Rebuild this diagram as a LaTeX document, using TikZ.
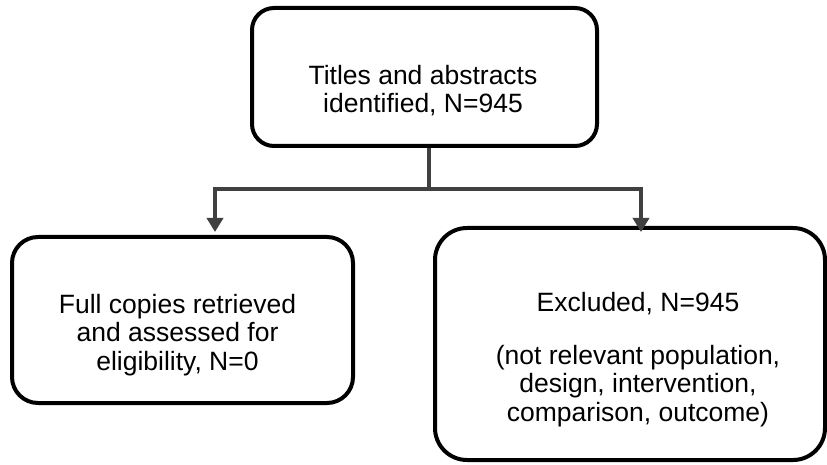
\documentclass[tikz,border=0pt]{standalone}
\usepackage{fontspec}
\setmainfont{Liberation Sans}
\usetikzlibrary{arrows.meta}
\definecolor{conngray}{HTML}{404040}
\tikzset{
  box/.style={draw=black, line width=4pt, fill=white, inner sep=0pt},
  txt/.style={align=center, font=\fontsize{26.5}{28.5}\selectfont, inner sep=0pt, anchor=base},
  conn/.style={draw=conngray, line width=3.5pt},
  arr/.style={conn, -{Triangle[length=14pt,width=16pt]}}
}
\begin{document}
\begin{tikzpicture}[x=1pt,y=1pt]
\useasboundingbox (0,0) rectangle (827,464);
\node[box, rounded corners=22pt, minimum width=345pt, minimum height=138pt] (top) at (424.5,387) {};
\node[box, rounded corners=26pt, minimum width=341pt, minimum height=166pt] (left) at (182.5,144) {};
\node[box, rounded corners=32pt, minimum width=390pt, minimum height=232pt] (right) at (630,120) {};
\node[txt] (ttop) at (423,351) {Titles and abstracts\\identified, N=945};
\node[txt] (tleft) at (177.5,94) {Full copies retrieved\\and assessed for\\eligibility, N=0};
\node[txt] (tright) at (638,43) {Excluded, N=945\\[24.5pt](not relevant population,\\design, intervention,\\comparison, outcome)};
\coordinate (split) at (429,275);
\coordinate (la) at (215,232);
\coordinate (ra) at (641,232);
\draw[conn] (split |- top.south) -- (split);
\draw[arr] (split) -| (la);
\draw[arr] (split) -| (ra);
\end{tikzpicture}
\end{document}
